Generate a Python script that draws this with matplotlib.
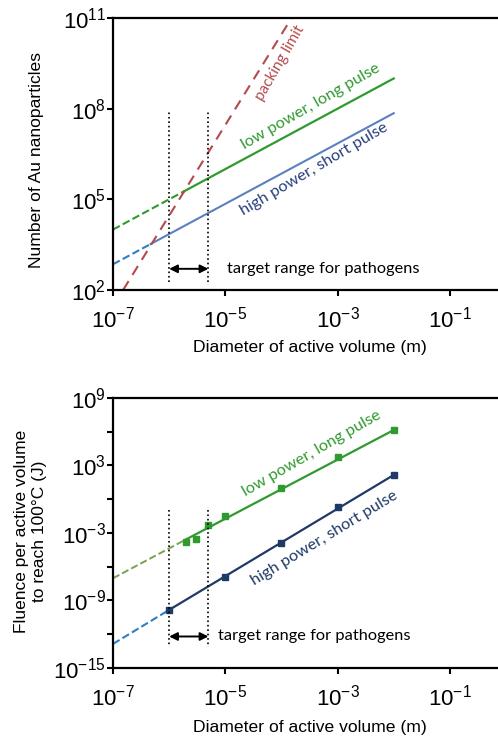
import numpy as np
import matplotlib
matplotlib.use("Agg")
import matplotlib.pyplot as plt

# ---------------------------------------------------------------------------
# Data (log10 values)
# ---------------------------------------------------------------------------

# top panel: number of Au nanoparticles, lines through (diameter, count)
green_np_x = [1e-7, 10**-5.73, 1e-2]
green_np_y = [10**4.0, 10**5.27, 10**9.0]
blue_np_x = [1e-7, 10**-6.33, 1e-2]
blue_np_y = [10**2.85, 10**3.52, 10**7.85]
packing_x = [10**-6.82, 10**-3.82]
packing_y = [1e2, 1e11]

# bottom panel: fluence per active volume (J)
green_fl_x = [2e-6, 3e-6, 5e-6, 1e-5, 1e-4, 1e-3, 1e-2]
green_fl_y = [10**-3.78, 10**-3.54, 10**-2.30, 10**-1.47,
              10**0.96, 10**3.71, 10**6.13]
green_fit_x = [1e-7, 2e-6, 1e-2]
green_fit_y = [10**-7.03, 10**-3.58, 10**6.13]
blue_fl_x = [1e-6, 1e-5, 1e-4, 1e-3, 1e-2]
blue_fl_y = [10**-9.84, 10**-6.88, 10**-3.87, 10**-0.67, 10**2.14]
blue_fit_x = [1e-7, 1e-6, 1e-2]
blue_fit_y = [10**-12.86, 10**-9.84, 10**2.14]

target_range = [1e-6, 5e-6]

x_ticks = [1e-7, 1e-5, 1e-3, 1e-1]
x_ticklabels = ["-7", "-5", "-3", "-1"]

GREEN = "#2f9a2f"
GREEN_DASH = "#78a24c"
BLUE = "#5b80bf"
BLUE_DASH = "#2e7fc4"
NAVY = "#1f3a66"
NAVY_TEXT = "#283f7c"
RED = "#b54a4b"
LABEL_FONT = ["Lato", "DejaVu Sans"]

plt.rcParams["font.family"] = ["Liberation Sans", "DejaVu Sans"]
plt.rcParams["mathtext.fontset"] = "custom"
plt.rcParams["mathtext.rm"] = "Liberation Sans"
plt.rcParams["mathtext.it"] = "Liberation Sans"

fig = plt.figure(figsize=(4.98, 7.42), dpi=100)
ax1 = fig.add_axes([0.2269, 0.6092, 0.7731, 0.3665])
ax2 = fig.add_axes([0.2269, 0.0997, 0.7731, 0.3643])

XMAX = 10**-0.143


def style_axes(ax, ylim, yticks, ylabels):
    ax.set_xscale("log")
    ax.set_yscale("log")
    ax.set_xlim(1e-7, XMAX)
    ax.set_ylim(*ylim)
    ax.spines["right"].set_visible(False)
    for s in ("top", "left", "bottom"):
        ax.spines[s].set_linewidth(1.6)
    ax.minorticks_off()
    ax.set_xticks(x_ticks)
    ax.set_xticklabels([rf"$10^{{{e}}}$" for e in x_ticklabels])
    ax.set_yticks(yticks)
    ax.set_yticklabels(ylabels)
    ax.tick_params(axis="both", direction="out", length=4, width=1.5,
                   labelsize=16, pad=1)
    ax.tick_params(axis="x", pad=8)
    ax.set_xlabel("Diameter of active volume (m)", fontsize=12.6)


# --- top panel ------------------------------------------------------------
ax = ax1
style_axes(ax, (1e2, 1e11), [1e2, 1e5, 1e8, 1e11],
           [rf"$10^{{{e}}}$" for e in (2, 5, 8, 11)])
ax.plot(green_np_x[:2], green_np_y[:2], "--", color=GREEN, lw=1.5)
ax.plot(green_np_x[1:], green_np_y[1:], "-", color=GREEN, lw=1.6)
ax.plot(blue_np_x[:2], blue_np_y[:2], "--", color=BLUE_DASH, lw=1.5)
ax.plot(blue_np_x[1:], blue_np_y[1:], "-", color=BLUE, lw=1.5)
ax.plot(packing_x, packing_y, "--", color=RED, lw=1.5, dashes=(5, 3.5))
for xv in target_range:
    ax.plot([xv, xv], [10**2.27, 10**7.9], ":", color="black", lw=1.2)
ax.annotate("", xy=(target_range[0], 10**2.7), xytext=(target_range[1], 10**2.7),
            arrowprops=dict(arrowstyle="<|-|>", color="black", lw=1.4,
                            shrinkA=0, shrinkB=0, mutation_scale=12))
ax.text(1.07e-5, 10**2.7, "target range for pathogens", fontsize=11.8,
        family=LABEL_FONT, va="center", ha="left")
ax.text(10**-4.03, 10**9.52, "packing limit", color=RED, fontsize=11,
        family=LABEL_FONT, rotation=60, ha="center", va="center")
ax.text(10**-3.48, 10**8.06, "low power, long pulse", color=GREEN,
        fontsize=11.8, family=LABEL_FONT, rotation=30, ha="center", va="center")
ax.text(10**-3.42, 10**6.0, "high power, short pulse", color=NAVY_TEXT,
        fontsize=11.8, family=LABEL_FONT, rotation=30.5, ha="center", va="center")
ax.set_ylabel("Number of Au nanoparticles", fontsize=12.6)
ax.xaxis.set_label_coords(0.511, -0.185)
ax.yaxis.set_label_coords(-0.18, 0.478)

# --- bottom panel ---------------------------------------------------------
ax = ax2
style_axes(ax, (1e-15, 1e9), [1e-15, 1e-12, 1e-9, 1e-6, 1e-3, 1, 1e3, 1e6, 1e9],
           [r"$10^{-15}$", "", r"$10^{-9}$", "", r"$10^{-3}$", "",
            r"$10^{3}$", "", r"$10^{9}$"])
ax.plot(green_fit_x[:2], green_fit_y[:2], "--", color=GREEN_DASH, lw=1.4)
ax.plot(green_fit_x[1:], green_fit_y[1:], "-", color=GREEN, lw=1.6)
ax.plot(green_fl_x, green_fl_y, "s", color=GREEN, ms=4.5, mec=GREEN)
ax.plot(blue_fit_x[:2], blue_fit_y[:2], "--", color=BLUE_DASH, lw=1.5)
ax.plot(blue_fit_x[1:], blue_fit_y[1:], "-", color=NAVY, lw=1.6)
ax.plot(blue_fl_x, blue_fl_y, "s", color=NAVY, ms=4.5, mec=NAVY)
for xv in target_range:
    ax.plot([xv, xv], [10**-0.97, 10**-13.15], ":", color="black", lw=1.2)
ax.annotate("", xy=(target_range[0], 10**-12.2), xytext=(target_range[1], 10**-12.2),
            arrowprops=dict(arrowstyle="<|-|>", color="black", lw=1.4,
                            shrinkA=0, shrinkB=0, mutation_scale=12))
ax.text(7.4e-6, 10**-12.2, "target range for pathogens", fontsize=11.8,
        family=LABEL_FONT, va="center", ha="left")
ax.text(10**-3.46, 10**4.0, "low power, long pulse", color=GREEN,
        fontsize=11.8, family=LABEL_FONT, rotation=30, ha="center", va="center")
ax.text(10**-3.24, 10**-3.45, "high power, short pulse", color=NAVY,
        fontsize=11.8, family=LABEL_FONT, rotation=31.3, ha="center", va="center")
ax.set_ylabel("Fluence per active volume\nto reach 100°C (J)", fontsize=12.5)
ax.xaxis.set_label_coords(0.511, -0.192)
ax.yaxis.set_label_coords(-0.172, 0.507)

fig.savefig("out.png", dpi=100)
